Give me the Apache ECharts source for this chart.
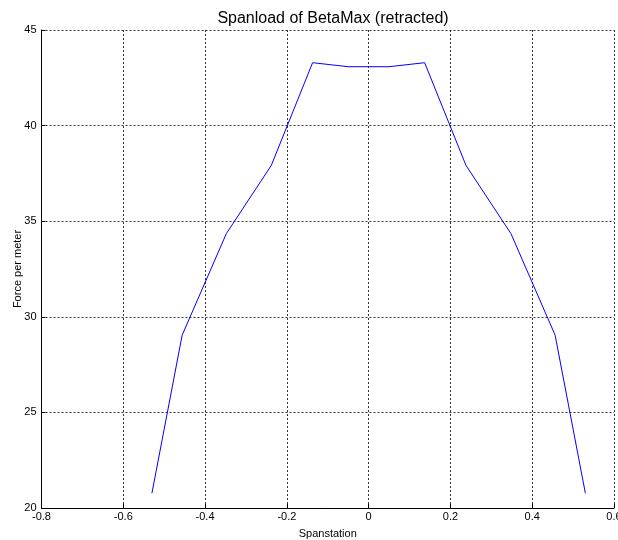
<!DOCTYPE html>
<html>
<head>
<meta charset="utf-8">
<title>Spanload of BetaMax (retracted)</title>
<script src="https://cdn.jsdelivr.net/npm/echarts@6/dist/echarts.min.js"></script>
<style>
  html, body { margin: 0; padding: 0; background: #fff; }
  #chart { width: 618px; height: 540px; }
</style>
</head>
<body>
<div id="chart"></div>
<script>
  // spanstation positions and force per meter
  var spanstation = [-0.53, -0.456, -0.348, -0.238, -0.137, -0.05, 0.05, 0.137, 0.238, 0.348, 0.456, 0.53]
  var force = [20.77, 29.04, 34.35, 37.92, 43.29, 43.08, 43.08, 43.29, 37.92, 34.35, 29.04, 20.77]

  var xTicks = [-0.8, -0.6, -0.4, -0.2, 0, 0.2, 0.4, 0.6]
  var yTicks = [20, 25, 30, 35, 40, 45]

  var points = spanstation.map(function (x, i) { return [x, force[i]] })

  var gridLine = { show: true, lineStyle: { color: '#333', type: [2, 2], width: 1 } }
  var font = 'Liberation Sans, Arial, sans-serif'

  var chart = echarts.init(document.getElementById('chart'))
  chart.setOption({
    animation: false,
    backgroundColor: '#fff',
    title: {
      text: 'Spanload of BetaMax (retracted)',
      left: 328,
      textAlign: 'center',
      top: 6,
      textStyle: { fontFamily: font, fontSize: 16, fontWeight: 'normal', color: '#000' }
    },
    grid: { left: 41.5, right: 4, top: 30, bottom: 32, containLabel: false, outerBoundsMode: 'none' },
    xAxis: {
      type: 'value',
      min: xTicks[0],
      max: xTicks[xTicks.length - 1],
      interval: 0.2,
      name: 'Spanstation',
      nameLocation: 'middle',
      nameGap: 20,
      nameMoveOverlap: false,
      nameTextStyle: { fontFamily: font, fontSize: 11, color: '#000' },
      axisLine: { show: true, onZero: false, lineStyle: { color: '#000', width: 1 } },
      axisTick: { show: true, inside: true, length: 4, lineStyle: { color: '#000' } },
      axisLabel: {
        fontFamily: font, fontSize: 11, color: '#000', margin: 3,
        formatter: function (v) { return String(Math.round(v * 10) / 10) }
      },
      splitLine: gridLine
    },
    yAxis: {
      type: 'value',
      min: yTicks[0],
      max: yTicks[yTicks.length - 1],
      interval: 5,
      name: 'Force per meter',
      nameLocation: 'middle',
      nameGap: 18,
      nameMoveOverlap: false,
      nameTextStyle: { fontFamily: font, fontSize: 11, color: '#000' },
      axisLine: { show: true, onZero: false, lineStyle: { color: '#000', width: 1 } },
      axisTick: { show: true, inside: true, length: 4, lineStyle: { color: '#000' } },
      axisLabel: { fontFamily: font, fontSize: 11, color: '#000', margin: 5 },
      splitLine: gridLine
    },
    series: [
      {
        type: 'line',
        data: points,
        showSymbol: false,
        lineStyle: { color: '#0000ff', width: 1 },
        itemStyle: { color: '#0000ff' }
      }
    ]
  })
</script>
</body>
</html>
